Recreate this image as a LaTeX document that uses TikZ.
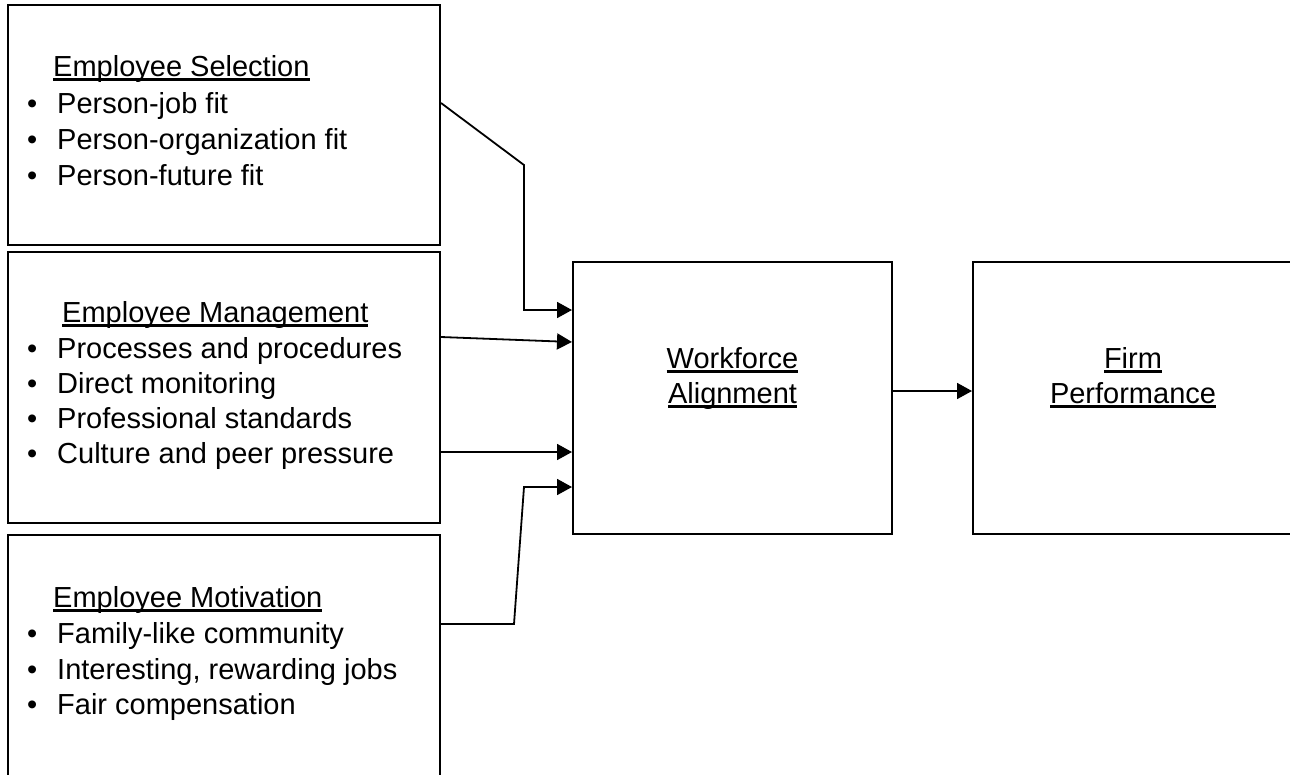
\documentclass[tikz,border=0pt]{standalone}
\usepackage{fontspec}
\setmainfont{Liberation Sans}
\usetikzlibrary{arrows.meta}
\newcommand\myul[1]{\setbox0=\hbox{#1}\rlap{\rule[-5pt]{\wd0}{2.6pt}}\box0}
\begin{document}
\begin{tikzpicture}[x=1pt,y=-1pt,
  box/.style={draw, line width=2pt, rectangle, inner sep=0pt},
  tx/.style={inner sep=0pt, anchor=base west, font=\fontsize{29}{35}\selectfont},
  ctx/.style={inner sep=0pt, anchor=base, font=\fontsize{29}{35}\selectfont},
  conn/.style={line width=1.8pt, -{Triangle[length=15pt,width=16pt]}}]
\useasboundingbox (0,0) rectangle (1290,774);
\fill[white] (0,0) rectangle (1290,774);
\clip (0,0) rectangle (1290,774);
% boxes
\node[box, minimum width=432pt, minimum height=240pt] (sel) at (224,125) {};
\node[box, minimum width=432pt, minimum height=271pt] (man) at (224,387.5) {};
\node[box, minimum width=432pt, minimum height=255pt] (mot) at (224,662.5) {};
\node[box, minimum width=319pt, minimum height=272pt] (wf) at (732.5,398) {};
\node[box, minimum width=320pt, minimum height=272pt] (fp) at (1133,398) {};
% selection text
\node[tx] (selh) at (53,76) {\myul{Employee Selection}};
\node[tx] (selb1) at (27,113) {•};
\node[tx] (selt1) at (57,113) {Person-job fit};
\node[tx] (selb2) at (27,149) {•};
\node[tx] (selt2) at (57,149) {Person-organization fit};
\node[tx] (selb3) at (27,185) {•};
\node[tx] (selt3) at (57,185) {Person-future fit};
% management text
\node[tx] (manh) at (62,322) {\myul{Employee Management}};
\node[tx] (manb1) at (27,358) {•};
\node[tx] (mant1) at (57,358) {Processes and procedures};
\node[tx] (manb2) at (27,393) {•};
\node[tx] (mant2) at (57,393) {Direct monitoring};
\node[tx] (manb3) at (27,428) {•};
\node[tx] (mant3) at (57,428) {Professional standards};
\node[tx] (manb4) at (27,463) {•};
\node[tx] (mant4) at (57,463) {Culture and peer pressure};
% motivation text
\node[tx] (moth) at (53,607) {\myul{Employee Motivation}};
\node[tx] (motb1) at (27,643) {•};
\node[tx] (mott1) at (57,643) {Family-like community};
\node[tx] (motb2) at (27,679) {•};
\node[tx] (mott2) at (57,679) {Interesting, rewarding jobs};
\node[tx] (motb3) at (27,714) {•};
\node[tx] (mott3) at (57,714) {Fair compensation};
% center texts
\node[ctx] (wf1) at (732.5,368) {\myul{Workforce}};
\node[ctx] (wf2) at (732.5,403) {\myul{Alignment}};
\node[ctx] (fp1) at (1133,368) {\myul{Firm}};
\node[ctx] (fp2) at (1133,403) {\myul{Performance}};
% connector bends
\coordinate (k1) at (524,165);
\coordinate (k2) at (524,310);
\coordinate (k3) at (514,624);
\coordinate (k4) at (524,487);
% connectors
\draw[conn] (sel.east |- 0,103) -- (k1) -- (k2) -- (wf.west |- k2);
\draw[conn] (man.east |- 0,337) -- (wf.west |- 0,342);
\draw[conn] (man.east |- 0,452) -- (wf.west |- 0,452);
\draw[conn] (mot.east |- k3) -- (k3) -- (k4) -- (wf.west |- k4);
\draw[conn] (wf.east |- 0,391) -- (fp.west |- 0,391);
\end{tikzpicture}
\end{document}
